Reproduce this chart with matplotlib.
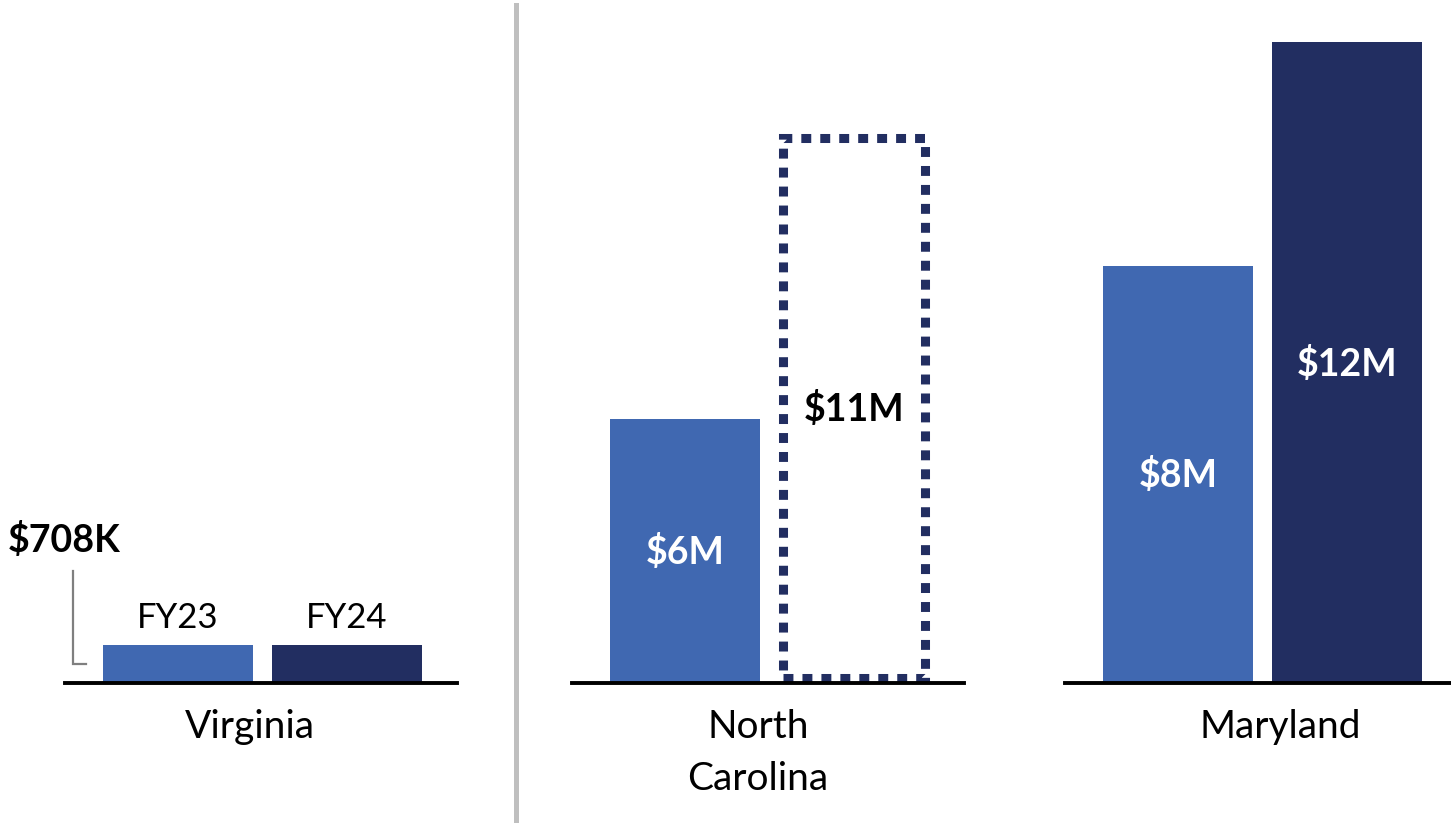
import matplotlib
matplotlib.use("Agg")
import matplotlib.pyplot as plt
from matplotlib.lines import Line2D
from matplotlib.patches import Rectangle

plt.rcParams['font.family'] = ['Lato', 'DejaVu Sans']
plt.rcParams['text.parse_math'] = False

# ---- data (values in $M) ----
states = ["Virginia", "North\nCarolina", "Maryland"]
years = ["FY23", "FY24"]
fy23 = [0.708, 4.94, 7.81]
fy24 = [0.708, 10.28, 12.0]
fy23_labels = ["", "$6M", "$8M"]
fy24_labels = ["", "$11M", "$12M"]
projected = [False, True, False]
small_label = "$708K"

# ---- style ----
BLUE = "#4068B1"
NAVY = "#222E61"
W, H = 1451, 823
DPI = 100
PX = 72 / DPI  # points per pixel

panel_left = [65, 572, 1065]
panel_w = 392
base_y = 683
top_y = 42
xlim = (-0.669, 1.651)
ylim = (0, 12)
bar_w = 0.888
label_x = [0.426, 0.432, 0.607]
line_gap_px = 52

fig = plt.figure(figsize=(W / DPI, H / DPI), dpi=DPI)

for i, st in enumerate(states):
    ax = fig.add_axes([panel_left[i] / W, (H - base_y) / H,
                       panel_w / W, (base_y - top_y) / H])
    ax.set_xlim(*xlim)
    ax.set_ylim(*ylim)
    for s in ["top", "left", "right"]:
        ax.spines[s].set_visible(False)
    ax.spines["bottom"].set_linewidth(2.8)
    ax.spines["bottom"].set_color("black")
    ax.spines["bottom"].set_zorder(5)
    ax.set_xticks([])
    ax.set_yticks([])
    ax.patch.set_visible(False)

    px_per_x = panel_w / (xlim[1] - xlim[0])
    px_per_y = (base_y - top_y) / (ylim[1] - ylim[0])

    ax.bar(0, fy23[i], width=bar_w, color=BLUE, zorder=2)
    if projected[i]:
        lw = 6.5
        half = lw / PX / 2
        dx = half / px_per_x
        dy = half / px_per_y
        rect = Rectangle((1 - bar_w / 2 + dx, dy), bar_w - 2 * dx,
                         fy24[i] - 2 * dy, fill=False, edgecolor=NAVY,
                         linewidth=lw, linestyle=(0, (1.1, 1.0)),
                         joinstyle="miter", capstyle="butt", zorder=2)
        ax.add_patch(rect)
        c24 = "black"
    else:
        ax.bar(1, fy24[i], width=bar_w, color=NAVY, zorder=2)
        c24 = "white"

    # value labels inside bars
    if fy23_labels[i]:
        ax.annotate(fy23_labels[i], xy=(0, fy23[i] / 2), xytext=(0, -13 * PX),
                    textcoords="offset points", ha="center", va="baseline",
                    fontsize=27, fontweight="bold", color="white", zorder=6)
    if fy24_labels[i]:
        ax.annotate(fy24_labels[i], xy=(1, fy24[i] / 2), xytext=(0, -13 * PX),
                    textcoords="offset points", ha="center", va="baseline",
                    fontsize=27, fontweight="bold", color=c24, zorder=6)

    # category label (baseline of last line)
    nlines = st.count("\n") + 1
    ax.annotate(st, xy=(label_x[i], 0),
                xytext=(0, -(55 + line_gap_px * (nlines - 1)) * PX),
                textcoords="offset points", ha="center", va="baseline",
                fontsize=28, color="black", linespacing=1.55,
                annotation_clip=False)

    if i == 0:
        # year labels above small bars
        for j, (yr, v) in enumerate(zip(years, [fy23[i], fy24[i]])):
            ax.annotate(yr, xy=(j, v), xytext=(0, 17 * PX),
                        textcoords="offset points", ha="center", va="baseline",
                        fontsize=25, color="black")
        # bracket + small value label
        mid = fy23[i] / 2
        top = mid + 93 / px_per_y
        bx0, bx1 = -0.621, -0.544
        ax.plot([bx1, bx0, bx0], [mid, mid, top], color="#7f7f7f", lw=1.6,
                clip_on=False, solid_joinstyle="miter", zorder=3)
        ax.annotate(small_label, xy=(-0.672, mid), xytext=(0, 112 * PX),
                    textcoords="offset points", ha="center", va="baseline",
                    fontsize=27, fontweight="bold", color="black",
                    annotation_clip=False)

# vertical separator
fig.add_artist(Line2D([516 / W, 516 / W], [0, 1 - 5 / H],
                      transform=fig.transFigure, color="#BFBFBF", lw=3.6))

fig.savefig("out.png", dpi=DPI)
